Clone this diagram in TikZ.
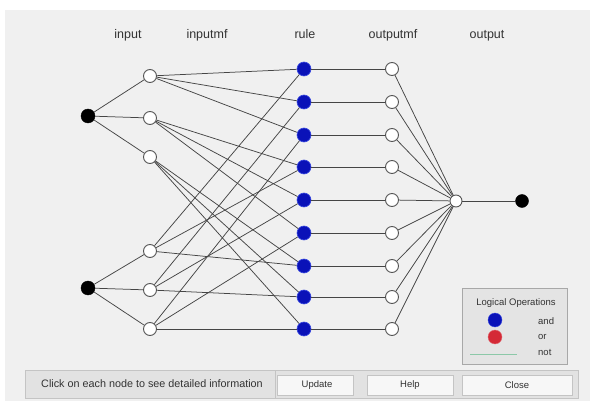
\documentclass[tikz,border=0pt]{standalone}
\usepackage{fontspec}
\setmainfont{Liberation Sans}
\definecolor{panelgray}{HTML}{F0F0F0}
\definecolor{linegray}{HTML}{454545}
\definecolor{nodegray}{HTML}{555555}
\definecolor{ruleblue}{HTML}{0A12B8}
\definecolor{ruleedge}{HTML}{3A4AE0}
\definecolor{textgray}{HTML}{333333}
\definecolor{legfill}{HTML}{E4E4E4}
\definecolor{legedge}{HTML}{A8A8A8}
\definecolor{barfill}{HTML}{E2E2E2}
\definecolor{baredge}{HTML}{C4C4C4}
\definecolor{btnfill}{HTML}{F7F7F7}
\definecolor{ornode}{HTML}{D42A36}
\definecolor{notline}{HTML}{8CC8A8}
\begin{document}
\begin{tikzpicture}[x=1pt,y=-1pt,
  conn/.style={draw=linegray, line width=0.75pt},
  inp/.style={circle, fill=black, draw=black, inner sep=0pt, minimum size=14pt},
  mf/.style={circle, fill=white, draw=nodegray, line width=0.9pt, inner sep=0pt, minimum size=13pt},
  rulenode/.style={circle, fill=ruleblue, draw=ruleedge, line width=0.6pt, inner sep=0pt, minimum size=14pt},
  hdr/.style={font=\fontsize{12.5}{14}\selectfont, text=textgray, inner sep=0pt, anchor=base},
  legtxt/.style={font=\fontsize{9.5}{11}\selectfont, text=textgray, inner sep=0pt},
  btn/.style={draw=baredge, fill=btnfill, line width=0.5pt},
  btntxt/.style={font=\fontsize{9.5}{11}\selectfont, text=textgray, inner sep=0pt}
]
\useasboundingbox (0,0) rectangle (595,401);
\fill[white] (0,0) rectangle (595,401);
\fill[panelgray] (5,10) rectangle (590,401);

% headers
\node[hdr] (h1) at (128,39) {input};
\node[hdr] (h2) at (207,39) {inputmf};
\node[hdr] (h3) at (305,39) {rule};
\node[hdr] (h4) at (393,39) {outputmf};
\node[hdr] (h5) at (487,39) {output};

% nodes
\node[inp] (in1) at (88,116) {};
\node[inp] (in2) at (88,288) {};
\foreach \i/\y in {1/76,2/118,3/157,4/251,5/290,6/329}
  \node[mf] (imf\i) at (150,\y) {};
\foreach \i/\y in {1/69,2/102,3/135,4/167,5/200,6/233,7/266,8/297,9/329}{
  \node[rulenode] (r\i) at (304,\y) {};
  \node[mf] (omf\i) at (392,\y) {};
}
\node[mf, minimum size=12pt] (agg) at (456,201) {};
\node[inp, minimum size=13pt] (out) at (522,201) {};

% connectors
\foreach \j in {1,2,3} \draw[conn] (in1) -- (imf\j);
\foreach \j in {4,5,6} \draw[conn] (in2) -- (imf\j);
\foreach \a/\r in {1/1,1/2,1/3,2/4,2/5,2/6,3/7,3/8,3/9,
                   4/1,4/4,4/7,5/2,5/5,5/8,6/3,6/6,6/9}
  \draw[conn] (imf\a) -- (r\r);
\foreach \r in {1,...,9}{
  \draw[conn] (r\r) -- (omf\r);
  \draw[conn] (omf\r) -- (agg);
}
\draw[conn] (agg) -- (out);

% legend
\draw[legedge, fill=legfill, line width=0.6pt] (462,288) rectangle (567,364);
\node[legtxt] (lt) at (516,303) {Logical Operations};
\node[circle, fill=ruleblue, draw=ruleedge, inner sep=0pt, minimum size=14pt] (land) at (495,320) {};
\node[circle, fill=ornode, draw=ornode!70!white, inner sep=0pt, minimum size=14pt] (lor) at (495,337) {};
\coordinate (nl1) at (470,354);
\coordinate (nl2) at (517,354);
\draw[notline, line width=1pt] (nl1) -- (nl2);
\node[legtxt, anchor=west] (tand) at (538,321) {and};
\node[legtxt, anchor=west] (tor) at (538,337) {or};
\node[legtxt, anchor=west] (tnot) at (538,352) {not};

% bottom bar
\draw[baredge, fill=barfill, line width=0.5pt] (25,370) rectangle (578,398);
\draw[baredge, line width=0.6pt] (275,370) -- (275,398);
\node[font=\fontsize{10.8}{12}\selectfont, text=textgray, inner sep=0pt] (msg) at (152,384) {Click on each node to see detailed information};
\draw[btn] (277,375) rectangle (353,395);
\draw[btn] (367,375) rectangle (453,395);
\draw[btn] (462,375) rectangle (572,395);
\node[btntxt] (bu) at (317,385) {Update};
\node[btntxt] (bh) at (410,385) {Help};
\node[btntxt] (bc) at (517,385) {Close};
\end{tikzpicture}
\end{document}
